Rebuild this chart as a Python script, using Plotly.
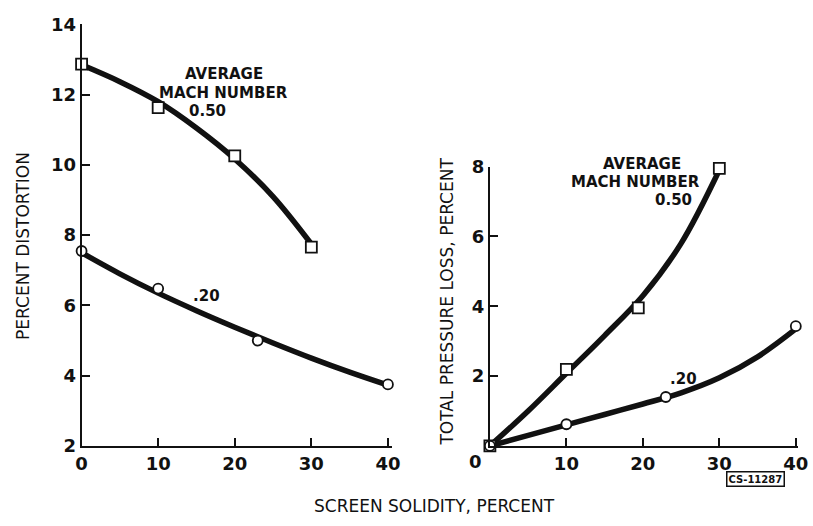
import plotly.graph_objects as go

# ---- data ----
# Left panel: percent distortion vs screen solidity -- measured points
dist_x_050 = [0, 10, 20, 30]
dist_y_050 = [12.87, 11.63, 10.26, 7.66]
dist_x_020 = [0, 10, 23, 40]
dist_y_020 = [7.55, 6.48, 5.0, 3.75]
# faired curves as drawn in the reference
dist_curve_x_050 = [0, 5, 10, 15, 20, 25, 30]
dist_curve_y_050 = [12.85, 12.37, 11.8, 11.05, 10.17, 9.1, 7.75]
dist_curve_x_020 = [0, 5, 10, 15, 20, 25, 30, 35, 40]
dist_curve_y_020 = [7.5, 6.9, 6.35, 5.85, 5.38, 4.93, 4.5, 4.1, 3.73]

# Right panel: total pressure loss vs screen solidity -- measured points
loss_x_050 = [0, 10, 19.4, 30]
loss_y_050 = [0.0, 2.19, 3.95, 7.95]
loss_x_020 = [0, 10, 23, 40]
loss_y_020 = [0.0, 0.62, 1.4, 3.43]
# faired curves as drawn in the reference
loss_curve_x_050 = [0, 5, 10, 15, 20, 25, 30]
loss_curve_y_050 = [0.0, 1.0, 2.08, 3.16, 4.3, 5.8, 7.9]
loss_curve_x_020 = [0, 5, 10, 15, 20, 25, 30, 35, 40]
loss_curve_y_020 = [0.0, 0.3, 0.6, 0.9, 1.2, 1.52, 1.95, 2.55, 3.35]

x_ticks = [0, 10, 20, 30, 40]
left_y_ticks = [2, 4, 6, 8, 10, 12, 14]
right_y_ticks = [2, 4, 6, 8]

W, H = 813, 526
FONT = "DejaVu Sans"
BLACK = "#111111"


def px(x):
    return x / W


def py(y):
    return 1 - y / H


fig = go.Figure()

LINE_W = 5.5


def add_curve(x, y, xa, ya):
    fig.add_trace(go.Scatter(
        x=x, y=y, mode="lines", line=dict(color=BLACK, width=LINE_W, shape="spline", smoothing=1.0),
        xaxis=xa, yaxis=ya, showlegend=False, hoverinfo="skip", cliponaxis=False))


def add_points(x, y, symbol, xa, ya, msize):
    fig.add_trace(go.Scatter(
        x=x, y=y, mode="markers",
        marker=dict(symbol=symbol, size=msize, color="white", line=dict(color=BLACK, width=1.8)),
        xaxis=xa, yaxis=ya, showlegend=False, cliponaxis=False))


add_curve(dist_curve_x_050, dist_curve_y_050, "x", "y")
add_curve(dist_curve_x_020, dist_curve_y_020, "x", "y")
add_curve(loss_curve_x_050, loss_curve_y_050, "x2", "y2")
add_curve(loss_curve_x_020, loss_curve_y_020, "x2", "y2")
add_points(dist_x_050, dist_y_050, "square", "x", "y", 11)
add_points(dist_x_020, dist_y_020, "circle", "x", "y", 10)
add_points(loss_x_050, loss_y_050, "square", "x2", "y2", 11)
add_points(loss_x_020, loss_y_020, "circle", "x2", "y2", 10)

tickfont = dict(family=FONT, size=18, color=BLACK, weight="bold")
axis_common = dict(
    showgrid=False, zeroline=False, showline=True, linecolor=BLACK, linewidth=2,
    ticks="inside", ticklen=8, tickwidth=2, tickcolor=BLACK, tickfont=tickfont,
    fixedrange=True,
)

fig.update_layout(
    width=W, height=H,
    margin=dict(l=0, r=0, t=0, b=0),
    paper_bgcolor="white", plot_bgcolor="white",
    xaxis=dict(domain=[px(77), px(393)], range=[0, 40.5], tickvals=x_ticks,
               anchor="y", **axis_common),
    yaxis=dict(domain=[py(453), py(14)], range=[2, 14], tickvals=left_y_ticks,
               anchor="x", **axis_common),
    xaxis2=dict(domain=[px(493), px(807)], range=[0, 40.3], tickvals=x_ticks,
                ticktext=["", "10", "20", "30", "40"], anchor="y2", **axis_common),
    yaxis2=dict(domain=[py(453), py(162)], range=[0, 8], tickvals=right_y_ticks,
                anchor="x2", **axis_common),
)

ann_font = dict(family=FONT, size=15, color=BLACK, weight="bold")
title_font = dict(family=FONT, size=17, color=BLACK)


def ann(text, x, y, font=ann_font, **kw):
    fig.add_annotation(text=text, x=px(x), y=py(y), xref="paper", yref="paper",
                       xanchor="center", yanchor="middle",
                       showarrow=False, font=font, **kw)


# Left panel labels
ann("AVERAGE", 222, 66)
ann("MACH NUMBER", 222, 85)
ann("0.50", 205, 104)
ann(".20", 204, 297)

# Right panel labels
ann("AVERAGE", 648, 159)
ann("MACH NUMBER", 641, 178)
ann("0.50", 680, 197)
ann(".20", 690, 383)
ann("0", 478, 469, font=tickfont)

# Axis titles
ann("PERCENT DISTORTION", 18, 245, font=title_font, textangle=-90)
ann("TOTAL PRESSURE LOSS, PERCENT", 449, 303, font=title_font, textangle=-90)
ann("SCREEN SOLIDITY, PERCENT", 437, 516, font=title_font)

# Figure number box
ann("CS-11287", 764, 487, font=dict(family=FONT, size=10, color=BLACK, weight="bold"),
    bordercolor=BLACK, borderwidth=1.5, borderpad=1, bgcolor="white")

fig.write_html("out.html")
